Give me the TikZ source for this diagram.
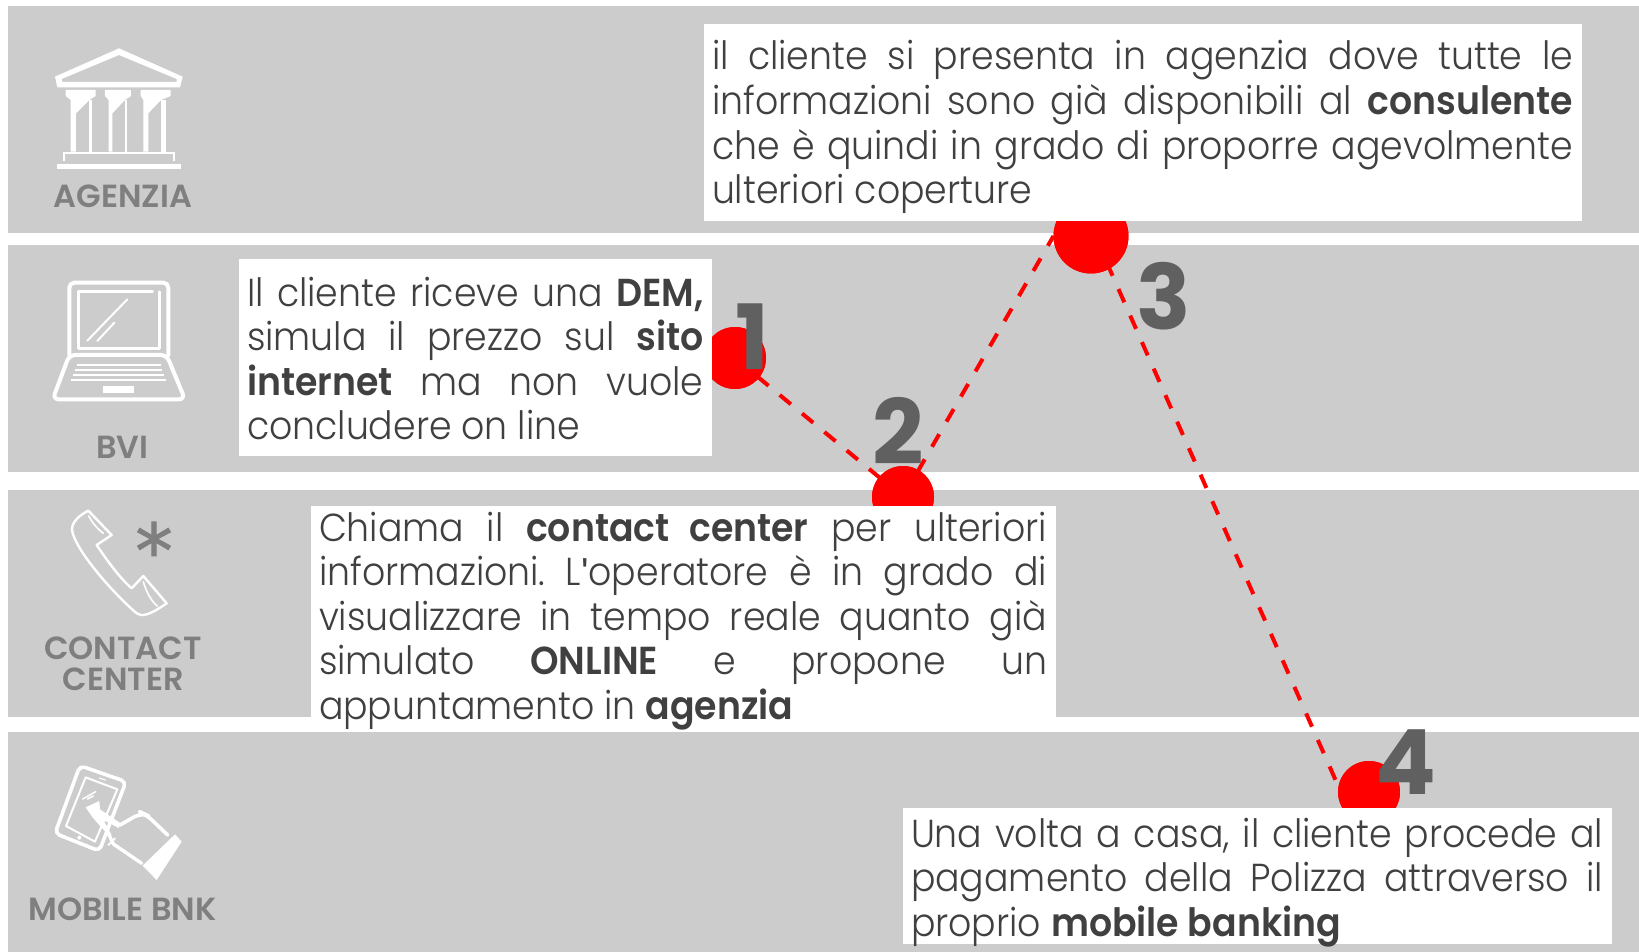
\documentclass[tikz,border=0pt]{standalone}
\usepackage{fontspec}
\setmainfont{Poppins Light}[FakeStretch=0.93,BoldFont={Poppins SemiBold},BoldFeatures={FakeStretch=0.93}]
\newfontfamily\numfont{Poppins Bold}
\newfontfamily\lblfont{Poppins SemiBold}
\newfontfamily\astfont{DejaVu Sans}[FakeBold=1.6]
\newfontfamily\aposfont{Liberation Sans}
\definecolor{bandgrey}{HTML}{CCCCCC}
\definecolor{txt}{HTML}{404040}
\definecolor{lab}{HTML}{7F7F7F}
\definecolor{num}{HTML}{606060}
\newcommand{\jl}[1]{\makebox[\linewidth][s]{#1}\\}
\frenchspacing
\tikzset{
  band/.style={fill=bandgrey,draw=none},
  wbox/.style={fill=white,draw=none},
  dot/.style={circle,fill=red,draw=none,inner sep=0pt,outer sep=0pt},
  dashline/.style={red,line width=4pt,dash pattern=on 14.5pt off 14.5pt},
  para/.style={anchor=base west,inner sep=0pt,outer sep=0pt,text=txt,font=\fontsize{39}{44.6}\selectfont\frenchspacing},
  lbl/.style={anchor=base,inner sep=0pt,text=lab,font=\fontsize{32}{32}\lblfont,align=center},
  numb/.style={anchor=base,inner sep=0pt,text=num,font=\fontsize{90}{90}\numfont},
  icon/.style={draw=white,line join=round,line cap=round},
  zoomed/.style={x=0.33333pt,y=-0.33333pt}
}
\begin{document}
\begin{tikzpicture}[x=1pt,y=-1pt]
\useasboundingbox (0,0) rectangle (1639,952);
% bands
\fill[band] (8,6) rectangle (1639,233);
\fill[band] (8,245) rectangle (1639,472);
\fill[band] (8,490) rectangle (1639,717);
\fill[band] (8,732) rectangle (1639,952);
% circles
\node[dot,minimum size=62pt] (c1) at (735,358) {};
\node[dot,minimum size=62pt] (c2) at (903,497) {};
\node[dot,minimum size=75pt] (c3) at (1091,236) {};
\node[dot,minimum size=62pt] (c4) at (1369,792) {};
\coordinate (c3b) at (1095,236);
% connectors
\draw[dashline] (c1.center) -- (c2.center);
\draw[dashline] (c2.center) -- (c3.west);
\draw[dashline] (c3b) -- (c4.170);
\node[dot,minimum size=62pt] at (c1) {};
\node[dot,minimum size=62pt] at (c2) {};
\node[dot,minimum size=75pt] at (c3) {};
\node[dot,minimum size=62pt] at (c4) {};
% white boxes
\fill[wbox] (704,24) rectangle (1582,221);
\fill[wbox] (239,259) rectangle (712,456);
\fill[wbox] (311,506) rectangle (1056,731);
\fill[wbox] (903,808) rectangle (1612,944);
% paragraphs
\node[para] (t1) at (712,70) {\parbox[t]{861pt}{\jl{il cliente si presenta in agenzia dove tutte le}\jl{informazioni sono già disponibili al \textbf{consulente}}\jl{che è quindi in grado di proporre agevolmente}ulteriori coperture}};
\node[para] (t2) at (247,306) {\parbox[t]{456.5pt}{\jl{Il cliente riceve una \textbf{DEM,}}\jl{simula il prezzo sul \textbf{sito}}\jl{\textbf{internet} ma non vuole}concludere on line}};
\node[para] (t3) at (319,541) {\parbox[t]{728pt}{\jl{Chiama il \textbf{contact center} per ulteriori}\jl{informazioni. L{\aposfont\symbol{39}}operatore è in grado di}\jl{visualizzare in tempo reale quanto già}\jl{simulato \textbf{ONLINE} e propone un}appuntamento in \textbf{agenzia}}};
\node[para] (t4) at (911,847) {\parbox[t]{692pt}{\jl{Una volta a casa, il cliente procede al}\jl{pagamento della Polizza attraverso il}proprio \textbf{mobile banking}}};
% numbers
\node[numb] (n1) at (752,369) {1};
\node[numb] (n2) at (898,464) {2};
\node[numb] (n3) at (1164,329) {3};
\node[numb] (n4) at (1406,794) {4};
% labels
\node[lbl] (l1) at (123,207.5) {AGENZIA};
\node[lbl] (l2) at (122.5,458) {BVI};
\node[lbl] (l3) at (123,659) {CONTACT};
\node[lbl] (l3b) at (123,690) {CENTER};
\node[lbl] (l4) at (122.5,920) {MOBILE BNK};
% temple
\begin{scope}[zoomed]
\fill[white,even odd rule] (357,145)--(548,230)--(540,262)--(172,262)--(165,230)--cycle
  (357,165)--(185,237)--(187,246)--(530,246)--(530,237)--cycle;
\foreach \a/\b/\c/\d/\e/\f in {197/287/212/228/268/275,315/393/326/337/375/382,422/512/430/445/483/497}{
  \fill[white] (\a,270)--(\b,270)--(\b,288)--(\e,300)--(\d,340)--(\d,455)--(\c,455)--(\c,300)--(\a,288)--cycle;
  \fill[white] (\e,300) rectangle (\f,455);
}
\draw[white,line width=2.2pt] (193,483)--(193,460)--(523,460)--(523,483);
\fill[white] (171,491) rectangle (543,507);
\end{scope}
% laptop
\begin{scope}[zoomed,yshift=-240pt]
\draw[icon,line width=4pt,rounded corners=5pt] (208,345)--(208,128)--(505,128)--(505,345);
\draw[icon,line width=2.4pt] (458,155)--(236,155)--(236,325)--(478,325)--(478,155);
\draw[icon,line width=2pt] (262,302)--(382,178);
\draw[icon,line width=2pt] (292,303)--(343,248);
\draw[icon,line width=4pt,rounded corners=6pt] (208,345)--(500,345)--(555,478)--(158,478)--cycle;
\draw[white,line width=2.2pt] (230,375)--(482,375) (225,390)--(487,390) (220,406)--(492,406) (214,421)--(497,421);
\fill[white] (310,438) rectangle (402,459);
\end{scope}
% phone
\begin{scope}[zoomed,yshift=-480pt]
\draw[icon,line width=2.4pt] (265,92) .. controls (240,105) and (215,125) .. (216,150)
  .. controls (225,210) and (340,340) .. (410,400)
  .. controls (425,410) and (445,408) .. (500,370)
  -- (430,288) -- (395,325) .. controls (360,295) and (320,240) .. (290,195)
  -- (335,165) -- cycle;
\draw[icon,line width=1.6pt] (266,108) .. controls (275,125) and (290,145) .. (310,160);
\draw[icon,line width=1.6pt] (430,305) .. controls (438,335) and (455,365) .. (472,378);
\end{scope}
\node[inner sep=0pt,anchor=base,text=lab,font=\fontsize{74}{74}\astfont] (ast) at (154,577) {*};
% mobile
\begin{scope}[zoomed,yshift=-720pt]
\draw[icon,line width=3.6pt,rounded corners=5pt] (240,137)--(378,185)--(298,393)--(165,340)--cycle;
\draw[icon,line width=2pt] (257,172)--(352,208)--(285,365)--(198,318)--cycle;
\draw[icon,line width=1.2pt] (298,174)--(316,180);
\draw[icon,line width=1.5pt] (248,237)--(287,215) (262,237)--(280,228);
\fill[white] (238,353) circle[radius=6];
\fill[white] (257,262)--(298,243)--(300,268)--(362,310)--(356,324)--(310,300)--(335,345)--(320,340)--(280,295)--cycle;
\draw[icon,line width=3.6pt,rounded corners=8pt] (360,315)--(425,278)--(440,285)--(503,345);
\draw[icon,line width=3.4pt] (325,340)--(340,372)--(425,430);
\draw[icon,line width=1.8pt] (325,375)--(345,355);
\fill[white] (525,343)--(545,365)--(470,480)--(428,437)--cycle;
\end{scope}
\end{tikzpicture}
\end{document}
